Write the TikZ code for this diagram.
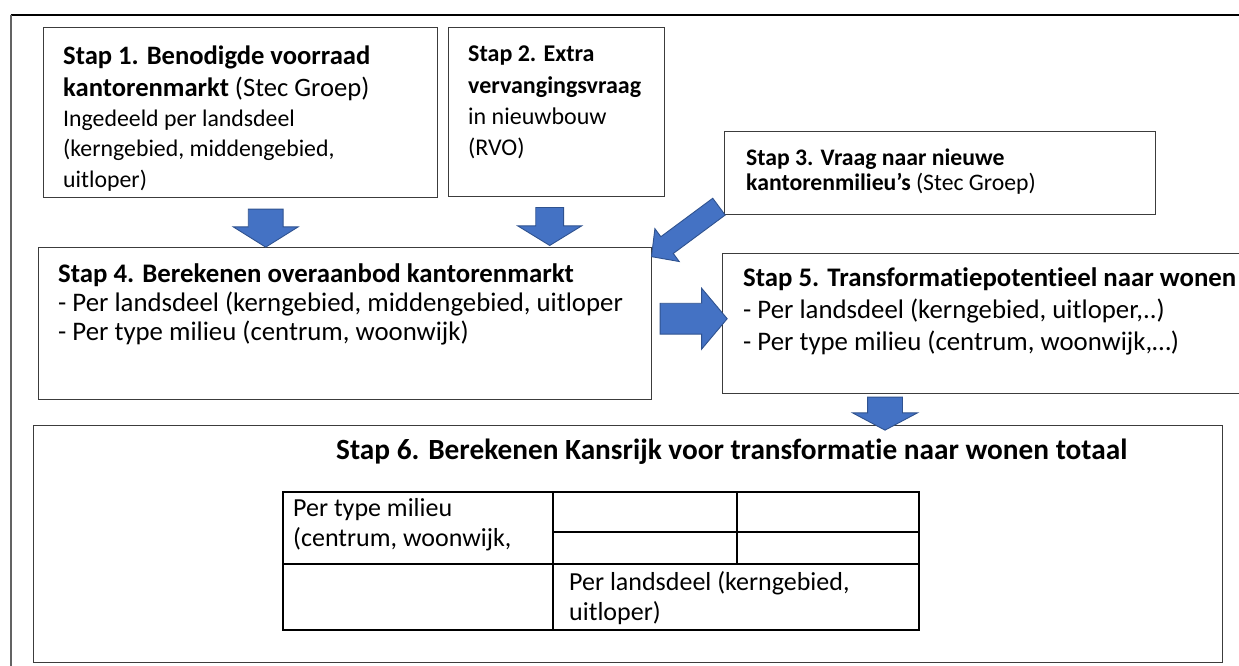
\documentclass[tikz,border=0pt]{standalone}
\usepackage{fontspec}
\setmainfont{Carlito}[Ligatures=NoCommon]
\usetikzlibrary{shapes.arrows}

\definecolor{arrowfill}{HTML}{4472C4}
\definecolor{arrowedge}{HTML}{2F528F}
\definecolor{boxedge}{HTML}{3C3C3C}

\tikzset{
  stepbox/.style={draw=boxedge,line width=1.4pt,fill=white,anchor=north west,inner sep=0pt},
  % base west of a multi-line node = baseline of its last line
  steptext/.style={anchor=base west,align=left,inner sep=0pt},
  blockarrow/.style={single arrow,draw=arrowedge,fill=arrowfill,line width=0.9pt,
    inner xsep=0pt,sloped,allow upside down,midway},
}

\begin{document}
\begin{tikzpicture}[x=1pt,y=-1pt]
\useasboundingbox (0,0) rectangle (1239,666);

% Outer frame (runs off the page right and below)
\draw[black,line width=2.6pt] (10.5,15) -- (1250,15);
\draw[boxedge!80,line width=1.6pt] (11,15) -- (11,680);

% Step boxes
\node[stepbox,minimum width=394pt,minimum height=170pt] (stap1) at (43,27) {};
\node[stepbox,minimum width=216pt,minimum height=169pt] (stap2) at (448,27) {};
\node[stepbox,minimum width=431pt,minimum height=83pt] (stap3) at (724,131) {};
\node[stepbox,minimum width=613pt,minimum height=152pt] (stap4) at (38,247) {};
\node[stepbox,minimum width=530pt,minimum height=140pt] (stap5) at (722,253) {};
\node[stepbox,minimum width=1189pt,minimum height=237pt] (stap6) at (33,425) {};

% Texts
\node[steptext,font=\fontsize{26.6pt}{32pt}\selectfont] (txt1a) at (63,97)
  {\textbf{Stap 1. Benodigde voorraad}\\ \textbf{kantorenmarkt} (Stec Groep)};
\node[steptext,font=\fontsize{23.8pt}{30.5pt}\selectfont] (txt1b) at (63,187)
  {Ingedeeld per landsdeel\\ (kerngebied, middengebied,\\ uitloper)};
\node[steptext,font=\fontsize{24pt}{31pt}\selectfont] (txt2) at (468,155)
  {\textbf{Stap 2. Extra}\\ \textbf{vervangingsvraag}\\ in nieuwbouw\\ (RVO)};
\node[steptext,font=\fontsize{23.7pt}{25pt}\selectfont] (txt3) at (746,190)
  {\textbf{Stap 3. Vraag naar nieuwe}\\ \textbf{kantorenmilieu’s} (Stec Groep)};
\node[steptext,font=\fontsize{26.8pt}{29pt}\selectfont] (txt4) at (58,340)
  {\textbf{Stap 4. Berekenen overaanbod kantorenmarkt}\\
   - Per landsdeel (kerngebied, middengebied, uitloper\\
   - Per type milieu (centrum, woonwijk)};
\node[steptext,font=\fontsize{26.8pt}{32pt}\selectfont] (txt5) at (743,350)
  {\textbf{Stap 5. Transformatiepotentieel naar wonen}\\
   - Per landsdeel (kerngebied, uitloper,..)\\
   - Per type milieu (centrum, woonwijk,…)};
\node[steptext,font=\fontsize{29.3pt}{30pt}\selectfont] (txt6) at (336,459)
  {\textbf{Stap 6. Berekenen Kansrijk voor transformatie naar wonen totaal}};

% Table inside step 6
\draw[line width=2.2pt] (283,492) rectangle (919,630);
\draw[line width=2.2pt] (283,564) -- (919,564);
\draw[line width=1.2pt] (553,492) -- (553,630);
\draw[line width=1.2pt] (737,492) -- (737,564);
\draw[line width=1.2pt] (553,532) -- (919,532);
\node[steptext,font=\fontsize{26pt}{30pt}\selectfont] (cel1) at (293,546)
  {Per type milieu\\ (centrum, woonwijk,};
\node[steptext,font=\fontsize{26pt}{30pt}\selectfont] (cel2) at (569,620)
  {Per landsdeel (kerngebied,\\ uitloper)};

% Block arrows
\path ([xshift=25pt]stap1.south) -- ([xshift=25pt]stap1.south |- stap4.north)
  node[blockarrow,minimum height=38pt,minimum width=64pt,inner ysep=17pt,
       single arrow head extend=15pt,single arrow tip angle=116] (pijl1) {};
\path ([xshift=-7pt]stap2.south) -- ([xshift=-7pt]stap2.south |- stap4.north)
  node[blockarrow,minimum height=38pt,minimum width=63pt,inner ysep=13.5pt,
       single arrow head extend=18pt,single arrow tip angle=117] (pijl2) {};
\path ([shift={(-2,-11)}]stap3.south west) -- ([shift={(4,6)}]stap4.north east)
  node[blockarrow,minimum height=84pt,minimum width=40pt,inner ysep=10pt,
       single arrow head extend=10pt,single arrow tip angle=93] (pijl3) {};
\path ([yshift=5pt]stap4.east) -- ([yshift=5pt]stap4.east -| stap5.west)
  node[blockarrow,minimum height=67pt,minimum width=60pt,inner ysep=15pt,
       single arrow head extend=15pt,single arrow tip angle=100] (pijl4) {};
\coordinate (pijl5top) at (885,393);
\path (pijl5top) -- (pijl5top |- stap6.north)
  node[blockarrow,minimum height=33pt,minimum width=64pt,inner ysep=17pt,
       single arrow head extend=15pt,single arrow tip angle=124] (pijl5) {};

\end{tikzpicture}
\end{document}
